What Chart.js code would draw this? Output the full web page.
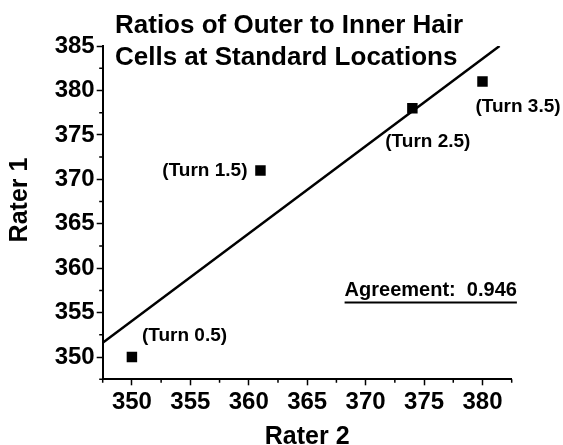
<!DOCTYPE html>
<html>
<head>
<meta charset="utf-8">
<script src="https://cdn.jsdelivr.net/npm/chart.js@4"></script>
<style>
  html, body { margin: 0; padding: 0; background: #fff; }
  #wrap { width: 563px; height: 445px; }
</style>
</head>
<body>
<div id="wrap"><canvas id="chart" width="563" height="445"></canvas></div>
<script>
// values
const rater2 = [350, 361, 374, 380];
const rater1 = [350, 371, 378, 381];
const turnLabels = ["(Turn 0.5)", "(Turn 1.5)", "(Turn 2.5)", "(Turn 3.5)"];
const fitX = [347.5, 381.46];
const fitY = [351.6, 385];
const titleLines = ["Ratios of Outer to Inner Hair", "Cells at Standard Locations"];
const agreementText = "Agreement:  0.946";
const agreementAt = [368.2, 357.5];

const fontFamily = '"Liberation Sans", Arial, sans-serif';
const ink = "#000";

// label offsets from each point, in pixels: [dx, dy, align]
const labelOffsets = [
  [10, -21, "left"],
  [-13, 0, "right"],
  [15.5, 34, "center"],
  [35.5, 25, "center"],
];

const isMajor = (v) => Math.abs(v / 5 - Math.round(v / 5)) < 1e-6;

const extras = {
  id: "extras",
  afterDraw(chart) {
    const { ctx, scales } = chart;
    const x = scales.x, y = scales.y;
    ctx.save();
    ctx.fillStyle = ink;
    ctx.strokeStyle = ink;

    // minor ticks
    ctx.lineWidth = 1.5;
    ctx.beginPath();
    x.ticks.forEach((t) => {
      if (isMajor(t.value)) return;
      const px = x.getPixelForValue(t.value);
      ctx.moveTo(px, x.top);
      ctx.lineTo(px, x.top + 3.5);
    });
    y.ticks.forEach((t) => {
      if (isMajor(t.value)) return;
      const py = y.getPixelForValue(t.value);
      ctx.moveTo(y.right, py);
      ctx.lineTo(y.right - 3.5, py);
    });
    ctx.stroke();

    // title
    ctx.font = "bold 26px " + fontFamily;
    ctx.textAlign = "left";
    ctx.textBaseline = "alphabetic";
    ctx.fillText(titleLines[0], 115, 33);
    ctx.fillText(titleLines[1], 115, 65);

    // point labels
    ctx.font = "bold 19px " + fontFamily;
    ctx.textBaseline = "middle";
    rater2.forEach((v, i) => {
      const [dx, dy, align] = labelOffsets[i];
      ctx.textAlign = align;
      ctx.fillText(turnLabels[i], x.getPixelForValue(v) + dx, y.getPixelForValue(rater1[i]) + dy);
    });

    // agreement note, underlined
    ctx.font = "bold 20px " + fontFamily;
    ctx.textAlign = "left";
    const ax = x.getPixelForValue(agreementAt[0]);
    const ay = y.getPixelForValue(agreementAt[1]);
    ctx.fillText(agreementText, ax, ay);
    const w = ctx.measureText(agreementText).width;
    ctx.lineWidth = 2;
    ctx.beginPath();
    ctx.moveTo(ax, ay + 12);
    ctx.lineTo(ax + w, ay + 12);
    ctx.stroke();

    // y axis title
    ctx.font = "bold 25px " + fontFamily;
    ctx.textAlign = "center";
    ctx.translate(20, 200);
    ctx.rotate(-Math.PI / 2);
    ctx.fillText("Rater 1", 0, 0);
    ctx.restore();
  },
};

const axisCommon = {
  type: "linear",
  border: { display: true, color: ink, width: 2 },
  grid: {
    drawOnChartArea: false,
    drawTicks: true,
    tickLength: 6,
    tickWidth: 1.5,
    tickColor: (c) => (c.tick && isMajor(c.tick.value) ? ink : "rgba(0,0,0,0)"),
  },
  ticks: {
    stepSize: 2.5,
    autoSkip: false,
    maxRotation: 0,
    color: ink,
    font: { family: fontFamily, size: 24, weight: "bold" },
    callback: (v) => (isMajor(v) ? String(Math.round(v)) : ""),
  },
};

new Chart(document.getElementById("chart"), {
  type: "scatter",
  data: {
    datasets: [
      {
        type: "line",
        data: fitX.map((v, i) => ({ x: v, y: fitY[i] })),
        borderColor: ink,
        borderWidth: 2.5,
        pointRadius: 0,
        fill: false,
      },
      {
        data: rater2.map((v, i) => ({ x: v, y: rater1[i] })),
        pointStyle: "rect",
        pointRadius: 7.4,
        pointBorderWidth: 0,
        backgroundColor: ink,
        borderColor: ink,
      },
    ],
  },
  options: {
    responsive: false,
    animation: false,
    layout: { padding: { top: 46, right: 51.3, bottom: 0, left: 0 } },
    plugins: {
      legend: { display: false },
      tooltip: { enabled: false },
    },
    scales: {
      x: {
        ...axisCommon,
        min: 347.5,
        max: 382.5,
        ticks: { ...axisCommon.ticks, padding: 3 },
        title: {
          display: true,
          text: "Rater 2",
          color: ink,
          font: { family: fontFamily, size: 25, weight: "bold", lineHeight: 1 },
          padding: { top: 0, bottom: -4.5 },
        },
        afterFit: (s) => { s.height = 65.7; },
      },
      y: {
        ...axisCommon,
        min: 347.5,
        max: 385,
        ticks: { ...axisCommon.ticks, padding: 2 },
        afterFit: (s) => { s.width = 102.7; },
      },
    },
  },
  plugins: [extras],
});
</script>
</body>
</html>
